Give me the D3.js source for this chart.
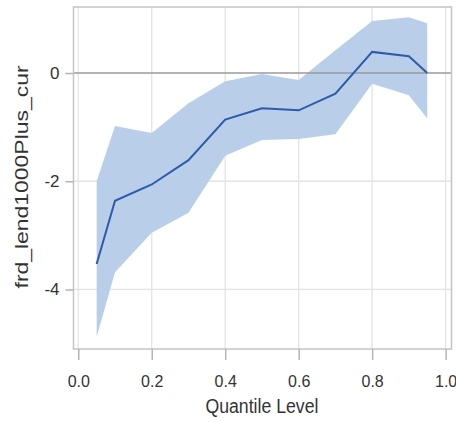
<!DOCTYPE html>
<html>
<head>
<meta charset="utf-8">
<script src="https://cdn.jsdelivr.net/npm/d3@7"></script>
<style>
  body { margin: 0; background: #fff; }
  text { font-family: "Liberation Sans", Arial, sans-serif; fill: #333; }
</style>
</head>
<body>
<div id="chart"></div>
<script>
const quantiles = [0.05, 0.1, 0.2, 0.3, 0.4, 0.5, 0.6, 0.7, 0.8, 0.9, 0.95];
const estimate = [-3.53, -2.36, -2.06, -1.61, -0.86, -0.65, -0.69, -0.38, 0.39, 0.31, 0.0];
const upper = [-2.0, -0.98, -1.11, -0.56, -0.15, -0.02, -0.13, 0.42, 0.96, 1.03, 0.92];
const lower = [-4.88, -3.68, -2.95, -2.58, -1.53, -1.24, -1.22, -1.13, -0.20, -0.41, -0.84];
const xTicks = [0, 0.2, 0.4, 0.6, 0.8, 1.0];
const yTicks = [0, -2, -4];

const width = 456;
const height = 422;
const plotLeft = 73.5, plotRight = 451.5, plotTop = 7, plotBottom = 349;

const svg = d3.select("#chart").append("svg")
    .attr("width", width)
    .attr("height", height);

const x = d3.scaleLinear().domain([-0.013, 1.016]).range([plotLeft, plotRight]);
const y = d3.scaleLinear().domain([-5.10, 1.22]).range([plotBottom, plotTop]);

const rows = quantiles.map((q, i) => ({ q, est: estimate[i], lo: lower[i], hi: upper[i] }));

// grid
svg.append("g")
    .selectAll("line")
    .data(xTicks)
    .enter().append("line")
    .attr("x1", d => x(d)).attr("x2", d => x(d))
    .attr("y1", plotTop).attr("y2", plotBottom)
    .attr("stroke", "#e4e4e4")
    .attr("stroke-width", 1.3);

svg.append("g")
    .selectAll("line")
    .data(yTicks.filter(d => d !== 0))
    .enter().append("line")
    .attr("x1", plotLeft).attr("x2", plotRight)
    .attr("y1", d => y(d)).attr("y2", d => y(d))
    .attr("stroke", "#e4e4e4")
    .attr("stroke-width", 1.3);

// confidence band
svg.append("path")
    .datum(rows)
    .attr("fill", "#b9cfe9")
    .attr("d", d3.area().x(d => x(d.q)).y0(d => y(d.lo)).y1(d => y(d.hi)));

// reference line at 0
svg.append("line")
    .attr("x1", plotLeft).attr("x2", plotRight)
    .attr("y1", y(0)).attr("y2", y(0))
    .attr("stroke", "#9a9a9a")
    .attr("stroke-width", 1.5);

// estimate
svg.append("path")
    .datum(rows)
    .attr("fill", "none")
    .attr("stroke", "#2e5aac")
    .attr("stroke-width", 2)
    .attr("d", d3.line().x(d => x(d.q)).y(d => y(d.est)));

// frame
svg.append("rect")
    .attr("x", plotLeft).attr("y", plotTop)
    .attr("width", plotRight - plotLeft).attr("height", plotBottom - plotTop)
    .attr("fill", "none")
    .attr("stroke", "#c4c4c4")
    .attr("stroke-width", 1.5);

// axes
const xAxis = svg.append("g")
    .attr("transform", `translate(0,${plotBottom})`)
    .call(d3.axisBottom(x).tickValues(xTicks).tickFormat(d3.format(".1f")).tickSize(11).tickPadding(16));
xAxis.select(".domain").remove();
xAxis.selectAll("line").attr("stroke", "#b4b4b4").attr("stroke-width", 1.5);
xAxis.selectAll("text").attr("font-size", 16).attr("fill", "#333");

const yAxis = svg.append("g")
    .attr("transform", `translate(${plotLeft},0)`)
    .call(d3.axisLeft(y).tickValues(yTicks).tickFormat(d => String(d)).tickSize(8).tickPadding(6));
yAxis.select(".domain").remove();
yAxis.selectAll("line").attr("stroke", "#b4b4b4").attr("stroke-width", 1.5);
yAxis.selectAll("text").attr("font-size", 17).attr("fill", "#333");

// axis labels
svg.append("text")
    .attr("x", (x(0) + x(1)) / 2)
    .attr("y", 413)
    .attr("text-anchor", "middle")
    .attr("font-size", 20)
    .attr("textLength", 113)
    .attr("lengthAdjust", "spacingAndGlyphs")
    .text("Quantile Level");

svg.append("text")
    .attr("transform", "translate(28,177) rotate(-90)")
    .attr("text-anchor", "middle")
    .attr("font-size", 18)
    .attr("textLength", 223)
    .attr("lengthAdjust", "spacingAndGlyphs")
    .text("frd_lend1000Plus_cur");
</script>
</body>
</html>
